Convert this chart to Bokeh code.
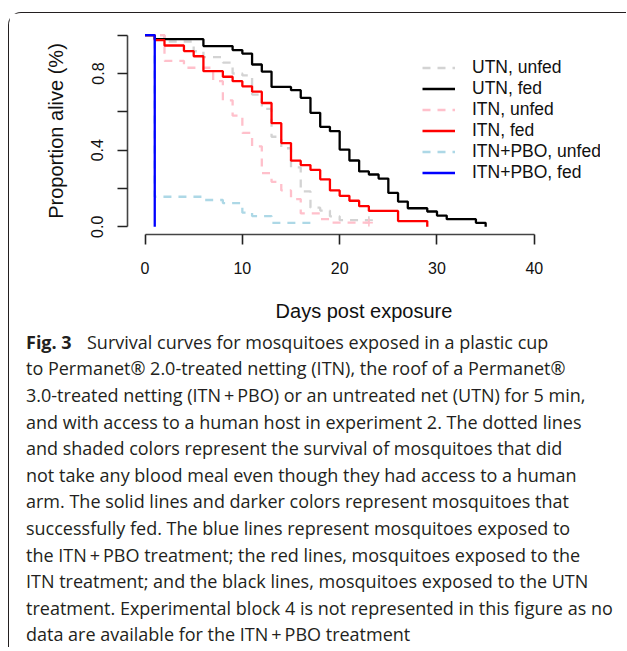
from bokeh.plotting import figure
from bokeh.models import Legend, LegendItem, Range1d, FixedTicker, NumeralTickFormatter
from bokeh.layouts import column
from bokeh.embed import file_html
from bokeh.resources import INLINE
from bokeh.core.properties import value

# ---------------- data (Kaplan-Meier steps) ----------------
utn_unfed_days = [0, 2, 5, 6, 8, 9, 10, 11, 12, 13, 14, 15, 16, 17, 18, 19, 20, 23]
utn_unfed_surv = [1.0, 0.967, 0.916, 0.885, 0.857, 0.80, 0.79, 0.69, 0.615, 0.47, 0.41, 0.31, 0.185, 0.10, 0.085, 0.055, 0.035, 0.035]

utn_fed_days = [0, 1, 6, 9, 10, 11, 12, 13, 15, 16, 17, 18, 19, 20, 21, 22, 23, 24, 25, 26, 27, 29, 30, 31, 34, 35]
utn_fed_surv = [1.0, 0.979, 0.943, 0.922, 0.904, 0.847, 0.810, 0.730, 0.713, 0.673, 0.595, 0.522, 0.499, 0.403, 0.346,
                0.289, 0.273, 0.252, 0.177, 0.132, 0.097, 0.080, 0.059, 0.040, 0.021, 0.0]

itn_unfed_days = [0, 2, 4, 7, 8, 9, 10, 11, 12, 13, 14, 15, 16, 18, 19, 23]
itn_unfed_surv = [1.0, 0.866, 0.83, 0.76, 0.66, 0.58, 0.49, 0.42, 0.28, 0.235, 0.19, 0.145, 0.07, 0.04, 0.022, 0.022]

itn_fed_days = [0, 1, 2, 4, 5, 6, 8, 9, 10, 11, 12, 13, 14, 15, 16, 17, 18, 19, 20, 21, 22, 23, 26, 29]
itn_fed_surv = [1.0, 0.974, 0.946, 0.917, 0.89, 0.812, 0.783, 0.76, 0.733, 0.705, 0.646, 0.541, 0.437, 0.345, 0.322,
                0.297, 0.248, 0.19, 0.162, 0.136, 0.108, 0.083, 0.03, 0.0]

pbo_unfed_days = [0, 1, 6, 8, 10, 11, 13, 17]
pbo_unfed_surv = [1.0, 0.157, 0.14, 0.124, 0.074, 0.056, 0.021, 0.0]

pbo_fed_days = [0, 1]
pbo_fed_surv = [1.0, 0.0]

censor_days = [23, 23]
censor_surv = [0.035, 0.022]
censor_colors = ["#D3D3D3", "#FFC0CB"]

series_labels = ["UTN, unfed", "UTN, fed", "ITN, unfed", "ITN, fed", "ITN+PBO, unfed", "ITN+PBO, fed"]
series_colors = ["#D3D3D3", "#000000", "#FFC0CB", "#FF0000", "#ADD8E6", "#0000FF"]
series_dashed = [True, False, True, False, True, False]

x_ticks = [0, 10, 20, 30, 40]
y_ticks = [0.0, 0.4, 0.8]
y_minor_ticks = [0.2, 0.6, 1.0]

caption_bold = "Fig. 3"
caption_lines = [
    "Survival curves for mosquitoes exposed in a plastic cup",
    "to Permanet\u00ae 2.0-treated netting (ITN), the roof of a Permanet\u00ae",
    "3.0-treated netting (ITN\u2009+\u2009PBO) or an untreated net (UTN) for 5 min,",
    "and with access to a human host in experiment 2. The dotted lines",
    "and shaded colors represent the survival of mosquitoes that did",
    "not take any blood meal even though they had access to a human",
    "arm. The solid lines and darker colors represent mosquitoes that",
    "successfully fed. The blue lines represent mosquitoes exposed to",
    "the ITN\u2009+\u2009PBO treatment; the red lines, mosquitoes exposed to the",
    "ITN treatment; and the black lines, mosquitoes exposed to the UTN",
    "treatment. Experimental block 4 is not represented in this figure as no",
    "data are available for the ITN\u2009+\u2009PBO treatment",
]

# ---------------- chart ----------------
AXF = "Liberation Sans"
W = 617
p = figure(width=W, height=312, x_range=Range1d(-1.8, 46.8), y_range=Range1d(-0.04, 1.04),
           output_backend="svg", toolbar_location=None, frame_align=False,
           min_border_left=118, min_border_right=26, min_border_top=14, min_border_bottom=91)
p.grid.grid_line_color = None
p.outline_line_color = None
p.background_fill_color = "white"
p.border_fill_color = "white"

series = [
    (utn_unfed_days, utn_unfed_surv),
    (utn_fed_days, utn_fed_surv),
    (itn_unfed_days, itn_unfed_surv),
    (itn_fed_days, itn_fed_surv),
    (pbo_unfed_days, pbo_unfed_surv),
    (pbo_fed_days, pbo_fed_surv),
]
renderers = [None] * 6
draw_order = [0, 2, 4, 1, 3, 5]
for i in draw_order:
    t, s = series[i]
    kw = dict(line_color=series_colors[i], line_width=2.3)
    if series_dashed[i]:
        kw["line_dash"] = "8 7"
    renderers[i] = p.step(x=t, y=s, mode="after", **kw)

p.scatter(x=censor_days, y=censor_surv, marker="cross", size=8, line_color=censor_colors, line_width=1.6)

for ax in (p.xaxis[0], p.yaxis[0]):
    ax.axis_line_color = "#444444"
    ax.axis_line_width = 1.6
    ax.major_tick_line_color = "#222222"
    ax.major_tick_line_width = 1.6
    ax.major_tick_out = 10
    ax.major_tick_in = 0
    ax.minor_tick_line_color = "#222222"
    ax.minor_tick_line_width = 1.6
    ax.minor_tick_out = 10
    ax.minor_tick_in = 0
    ax.major_label_text_font = AXF
    ax.major_label_text_font_size = "16px"
    ax.major_label_text_color = "#111111"
    ax.axis_label_text_font = AXF
    ax.axis_label_text_font_size = "20px"
    ax.axis_label_text_font_style = "normal"
    ax.axis_label_text_color = "#111111"

p.xaxis.ticker = FixedTicker(ticks=x_ticks, minor_ticks=[])
p.xaxis.bounds = (0, 40)
p.xaxis.axis_label = "Days post exposure"
p.xaxis.major_label_standoff = 17
p.xaxis.axis_label_standoff = 23

p.yaxis.ticker = FixedTicker(ticks=y_ticks, minor_ticks=y_minor_ticks)
p.yaxis.formatter = NumeralTickFormatter(format="0.0")
p.yaxis.bounds = (0, 1)
p.yaxis.axis_label = "Proportion alive (%)"
p.yaxis.major_label_orientation = "vertical"
p.yaxis.major_label_standoff = 14
p.yaxis.axis_label_standoff = 22

legend = Legend(
    items=[LegendItem(label=series_labels[i], renderers=[renderers[i]]) for i in range(6)],
    location=(295, 51), orientation="vertical",
    glyph_width=33, glyph_height=21, label_height=21, spacing=0, padding=0, margin=0,
    label_standoff=17, border_line_color=None, background_fill_alpha=0,
    label_text_font=AXF, label_text_font_size="17.5px", label_text_color="#111111",
)
p.add_layout(legend)

# ---------------- caption ----------------
CH = 322
cap = figure(width=W, height=CH, x_range=Range1d(0, W), y_range=Range1d(CH, 0),
             output_backend="svg", toolbar_location=None, frame_align=False, min_border=0,
             x_axis_location=None, y_axis_location=None)
cap.grid.grid_line_color = None
cap.outline_line_color = None
cap.background_fill_color = "white"
cap.border_fill_color = "white"

line_h = 26.6
y0 = 16.2
ys = [y0 + i * line_h for i in range(len(caption_lines))]
xs = [77.5] + [16.5] * (len(caption_lines) - 1)
CF = "Open Sans"
cap.text(x=xs, y=ys, text=caption_lines, text_font=value(CF), text_font_size="18px",
         text_baseline="middle", text_align="left", text_color="#231f20")
cap.text(x=[16.5], y=[ys[0]], text=[caption_bold], text_font=value(CF), text_font_size="18px",
         text_font_style="bold", text_baseline="middle", text_align="left", text_color="#231f20")

layout = column(p, cap, styles={
    "border-top": "1.5px solid #231f20",
    "border-left": "1.5px solid #231f20",
    "border-top-left-radius": "13px",
    "margin-top": "12px",
    "margin-left": "8px",
})

open("out.html", "w").write(file_html(layout, INLINE))
